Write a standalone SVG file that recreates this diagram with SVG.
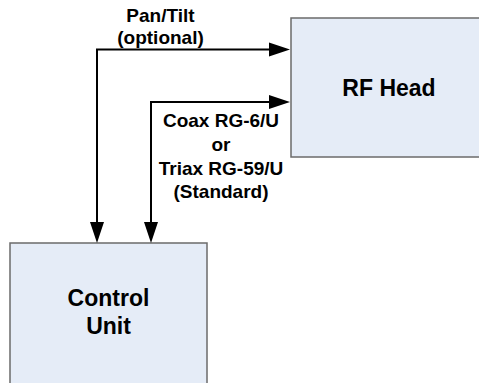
<svg xmlns="http://www.w3.org/2000/svg" width="479" height="383" viewBox="0 0 479 383">
<style>
.box{fill:#E5ECF7;stroke:#6b6b6b;stroke-width:1.5}
.node{font-family:"Liberation Sans",Arial,sans-serif;font-weight:bold;font-size:23px;fill:#000;text-anchor:middle}
.lbl{font-family:"Liberation Sans",Arial,sans-serif;font-weight:bold;font-size:19px;fill:#000;text-anchor:middle}
.conn{fill:none;stroke:#000;stroke-width:2}
</style>
<defs>
<marker id="arr" markerUnits="userSpaceOnUse" markerWidth="22" markerHeight="16" viewBox="0 -8 22 16" refX="0" refY="0" orient="auto-start-reverse">
<path d="M0,-7 L21,0 L0,7 z" fill="#000"/>
</marker>
</defs>
<rect width="479" height="383" fill="#fff"/>
<g id="rf-head">
<rect class="box" x="291" y="18" width="200" height="139"/>
<text class="node" x="389" y="96">RF Head</text>
</g>
<g id="control-unit">
<rect class="box" x="10" y="243" width="197" height="150"/>
<text class="node" x="108.5" y="306">Control</text>
<text class="node" x="108.5" y="334">Unit</text>
</g>
<g id="connectors">
<path class="conn" d="M97,222 V49.5 H269" marker-start="url(#arr)" marker-end="url(#arr)"/>
<path class="conn" d="M151,222 V102 H269" marker-start="url(#arr)" marker-end="url(#arr)"/>
<text class="lbl" x="160.5" y="22">Pan/Tilt</text>
<text class="lbl" x="160.5" y="44">(optional)</text>
<text class="lbl" x="221" y="127">Coax RG-6/U</text>
<text class="lbl" x="221" y="151">or</text>
<text class="lbl" x="221" y="174.5">Triax RG-59/U</text>
<text class="lbl" x="221" y="198">(Standard)</text>
</g>
</svg>
